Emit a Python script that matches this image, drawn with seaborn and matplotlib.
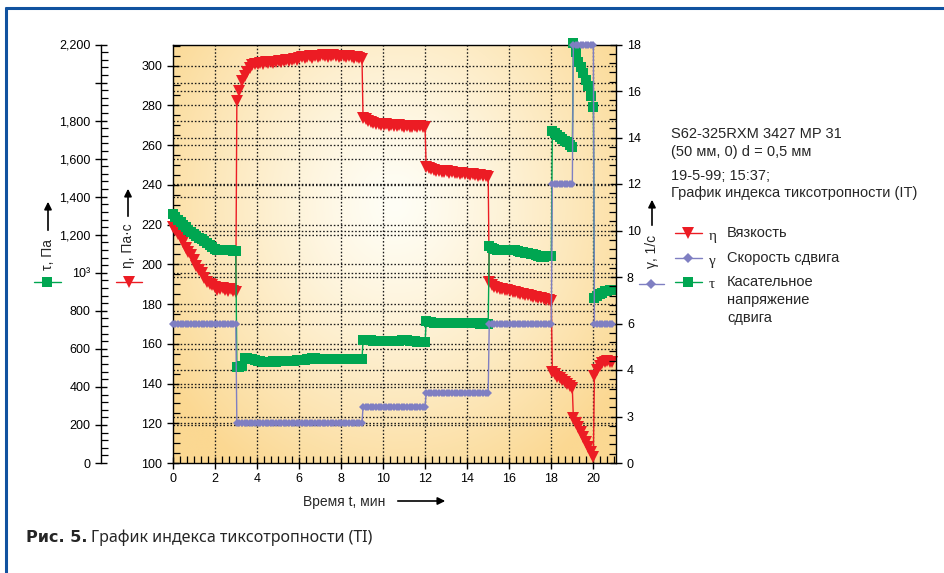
import numpy as np
import pandas as pd
import matplotlib
matplotlib.use("Agg")
import matplotlib.pyplot as plt
import matplotlib.transforms as mtransforms
from matplotlib.lines import Line2D
from matplotlib.ticker import MultipleLocator, FixedLocator, FixedFormatter
import seaborn as sns

# ---------------- data ----------------
segments = [(0.0, 3.0), (3.05, 9.0), (9.05, 12.0), (12.05, 15.0),
            (15.05, 18.0), (18.05, 19.0), (19.05, 20.0), (20.05, 20.9)]

eta_segments = [
    [219, 217.5, 215, 213, 211, 208, 206, 204.5, 202, 199, 197, 195.5, 193, 191,
     190, 189.5, 188.5, 187, 187.5, 188, 187, 186.5, 187.5, 186.5, 186],
    [282, 287, 292, 295, 297, 299, 300.5, 301, 301, 301.5, 301, 302, 301.5, 302,
     301.5, 302, 302.5, 302, 302.5, 303, 302.5, 303, 303.5, 303, 304, 304.5, 304,
     304.5, 305, 304, 305, 304.5, 305, 305.5, 305, 304.5, 305, 305.5, 305, 304.5,
     305, 305, 304.5, 305, 304.5, 304, 304.5, 304, 303.5],
    [273.5, 273, 272, 271.5, 271, 270.5, 270.5, 270, 270, 270.5, 269.5, 270, 269.5,
     269.5, 270, 269.5, 269, 269.5, 269, 269, 269.5, 269, 269.5, 269, 269],
    [249, 248.5, 248, 247.5, 247, 247, 246.5, 246.5, 247, 246, 246.5, 246, 246,
     245.5, 246, 245.5, 245.5, 245, 245.5, 245, 244.5, 245, 244.5, 244.5, 244],
    [191, 189.5, 188.5, 188, 187.5, 187.5, 187, 187, 186.5, 186, 186, 185.5, 185,
     185, 184.5, 184.5, 184, 183.5, 183.5, 183, 183, 182.5, 182, 182, 181.5],
    [146, 145, 143.5, 143, 142, 141, 140, 139, 137.5],
    [122.5, 120, 118, 115.5, 113, 110.5, 108, 105.5, 103],
    [144, 147, 149, 150.5, 151, 151.5, 151, 151],
]

tau_segments = [
    [1310, 1295, 1280, 1265, 1250, 1238, 1225, 1215, 1205, 1195, 1185, 1175, 1165,
     1155, 1145, 1135, 1125, 1122, 1120, 1118, 1118, 1121, 1120, 1115, 1112],
    [505, 507, 510, 550, 552, 548, 545, 540, 536, 535, 533, 533, 532, 533, 534, 533,
     534, 535, 535, 536, 537, 536, 538, 539, 540, 542, 544, 546, 548, 552, 550, 548,
     548, 547, 546, 547, 546, 546, 547, 546, 545, 546, 547, 546, 545, 546, 545, 546,
     546],
    [648, 647, 645, 644, 643, 642, 641, 640, 640, 641, 640, 642, 641, 640, 643, 645,
     647, 646, 643, 641, 640, 638, 637, 636, 635],
    [744, 742, 740, 738, 737, 736, 736, 735, 735, 736, 735, 736, 735, 734, 735, 736,
     737, 735, 734, 735, 734, 733, 734, 733, 733],
    [1142, 1132, 1125, 1122, 1120, 1119, 1118, 1120, 1122, 1120, 1118, 1114, 1110,
     1107, 1105, 1102, 1100, 1097, 1093, 1088, 1084, 1083, 1086, 1088, 1090],
    [1745, 1735, 1722, 1712, 1703, 1695, 1685, 1672, 1660],
    [2210, 2160, 2110, 2080, 2050, 2015, 1980, 1930, 1870],
    [865, 878, 888, 896, 902, 905, 908, 910],
]

gamma_segments = [
    [6, 6, 6, 6, 6, 6, 6, 6, 6, 6, 6, 6, 6, 6, 6, 6, 6, 6, 6, 6, 6, 6, 6, 6, 6],
    [2.6, 2.6, 2.6, 2.6, 2.6, 2.6, 2.6, 2.6, 2.6, 2.6, 2.6, 2.6, 2.6, 2.6, 2.6,
     2.6, 2.6, 2.6, 2.6, 2.6, 2.6, 2.6, 2.6, 2.6, 2.6, 2.6, 2.6, 2.6, 2.6, 2.6,
     2.6, 2.6, 2.6, 2.6, 2.6, 2.6, 2.6, 2.6, 2.6, 2.6, 2.6, 2.6, 2.6, 2.6, 2.6,
     2.6, 2.6, 2.6, 2.6],
    [3.2, 3.2, 3.2, 3.2, 3.2, 3.2, 3.2, 3.2, 3.2, 3.2, 3.2, 3.2, 3.2, 3.2, 3.2,
     3.2, 3.2, 3.2, 3.2, 3.2, 3.2, 3.2, 3.2, 3.2, 3.2],
    [3.5, 3.5, 3.5, 3.5, 3.5, 3.5, 3.5, 3.5, 3.5, 3.5, 3.5, 3.5, 3.5, 3.5, 3.5,
     3.5, 3.5, 3.5, 3.5, 3.5, 3.5, 3.5, 3.5, 3.5, 3.5],
    [6, 6, 6, 6, 6, 6, 6, 6, 6, 6, 6, 6, 6, 6, 6, 6, 6, 6, 6, 6, 6, 6, 6, 6, 6],
    [12, 12, 12, 12, 12, 12, 12, 12, 12],
    [18, 18, 18, 18, 18, 18, 18, 18, 18],
    [6, 6, 6, 6, 6, 6, 6, 6],
]

x_ticks = [0, 2, 4, 6, 8, 10, 12, 14, 16, 18, 20]
eta_ticks = [100, 120, 140, 160, 180, 200, 220, 240, 260, 280, 300]
tau_ticks = [0, 200, 400, 600, 800, 1000, 1200, 1400, 1600, 1800, 2000, 2200]
tau_labels = ['0', '200', '400', '600', '800', '10³', '1,200', '1,400',
              '1,600', '1,800', '', '2,200']
gamma_ticks = [0, 3, 4, 6, 8, 10, 12, 14, 16, 18]
gamma_labels = ['0', '3', '4', '6', '8', '10', '12', '14', '16', '18']

info_lines = ["S62-325RXM 3427 MP 31", "(50 мм, 0) d = 0,5 мм",
              "19-5-99; 15:37;", "График индекса тиксотропности (IT)"]
legend_names = ["Вязкость", "Скорость сдвига", "Касательное\nнапряжение\nсдвига"]
legend_greek = ["η", "γ", "τ"]


def series_frame(segs, name):
    rows = []
    for (a, b), vals in zip(segments, segs):
        ts = np.linspace(a, b, len(vals))
        rows.append(pd.DataFrame({"t": ts, name: vals}))
    return pd.concat(rows, ignore_index=True)


df_eta = series_frame(eta_segments, "eta")
df_tau = series_frame(tau_segments, "tau")
df_gam = series_frame(gamma_segments, "gamma")

# ---------------- style ----------------
sns.set_style("ticks")
plt.rcParams['font.family'] = ['Liberation Sans', 'DejaVu Sans']
plt.rcParams.update({
    'xtick.minor.visible': True, 'ytick.minor.visible': True,
    'xtick.minor.size': 5, 'ytick.minor.size': 5,
    'xtick.minor.width': 0.9, 'ytick.minor.width': 0.9,
    'xtick.major.size': 9, 'ytick.major.size': 9,
    'xtick.major.width': 1, 'ytick.major.width': 1,
    'xtick.color': 'black', 'ytick.color': 'black',
})
RED = '#EC1C24'
GREEN = '#00A651'
PURPLE = '#7F7FC2'

W, H = 945, 573
fig = plt.figure(figsize=(W / 100, H / 100), dpi=100)
fig.patch.set_facecolor('white')

L, R, T, B = 172.7, 616.5, 44.5, 463.0
ax = fig.add_axes([L / W, 1 - B / H, (R - L) / W, (B - T) / H])
ax_t = ax.twinx()
ax_g = ax.twinx()

# gradient background
gy, gx = np.mgrid[0:1:240j, 0:1:360j]
r = np.sqrt(((gx - 0.50) / 0.62) ** 2 + ((gy - 0.62) / 0.75) ** 2)
f = np.clip(r / 1.0, 0, 1) ** 1.25
c_in = np.array([255, 254, 246]) / 255
c_out = np.array([251, 216, 146]) / 255
img = c_in[None, None, :] * (1 - f[..., None]) + c_out[None, None, :] * f[..., None]
ax.imshow(img, origin='lower', extent=(0, 1, 0, 1), transform=ax.transAxes,
          aspect='auto', zorder=-10, interpolation='bilinear')

# ---------------- data lines ----------------
common = dict(linewidth=1.0, markeredgewidth=0, errorbar=None, legend=False)
sns.lineplot(data=df_eta, x="t", y="eta", ax=ax, color=RED, marker='v',
             markersize=8, zorder=3, **common)
sns.lineplot(data=df_tau, x="t", y="tau", ax=ax_t, color=GREEN, marker='s',
             markersize=6.5, zorder=3, **common)


def g_fwd(v):
    v = np.asarray(v, float)
    return np.where(v < 3, v * 2 / 3, np.where(v < 4, 2 + (v - 3) * 2, v))


def g_inv(u):
    u = np.asarray(u, float)
    return np.where(u < 2, u * 1.5, np.where(u < 4, 3 + (u - 2) / 2, u))


ax_g.set_yscale('function', functions=(g_fwd, g_inv))
sns.lineplot(data=df_gam, x="t", y="gamma", ax=ax_g, color=PURPLE, marker='D',
             markersize=4.5, zorder=3, **common)
for a_ in (ax, ax_t, ax_g):
    for ln in a_.get_lines():
        ln.set_clip_on(False)

# ---------------- limits & ticks ----------------
ax.set_xlim(0, 21.1)
ax.set_ylim(100, 310.6)
ax_t.set_ylim(0, 2200)
ax_g.set_ylim(0, 18)

ax.xaxis.set_major_locator(FixedLocator(x_ticks))
ax.xaxis.set_minor_locator(MultipleLocator(1 / 3))
ax.yaxis.set_major_locator(FixedLocator(eta_ticks))
ax.yaxis.set_minor_locator(MultipleLocator(5))
ax_t.yaxis.set_major_locator(FixedLocator(tau_ticks))
ax_t.yaxis.set_major_formatter(FixedFormatter(tau_labels))
ax_t.yaxis.set_minor_locator(MultipleLocator(40))
ax_g.yaxis.set_major_locator(FixedLocator(gamma_ticks))
ax_g.yaxis.set_major_formatter(FixedFormatter(gamma_labels))
ax_g.yaxis.set_minor_locator(FixedLocator(list(g_inv(np.arange(0, 18.01, 0.4)))))

# tau axis on far left
ax_t.yaxis.set_ticks_position('left')
ax_t.yaxis.set_label_position('left')
ax_t.spines['left'].set_position(('axes', (101 - L) / (R - L)))
ax_t.spines['left'].set_visible(True)
for s in ('right', 'top', 'bottom'):
    ax_t.spines[s].set_visible(False)

# gamma axis on right
ax_g.yaxis.set_ticks_position('right')
for s in ('left', 'top', 'bottom'):
    ax_g.spines[s].set_visible(False)

ax.spines['right'].set_visible(False)
for s in ('left', 'bottom', 'top'):
    ax.spines[s].set_visible(True)

for a_ in (ax, ax_t, ax_g):
    a_.set_xlabel('')
    a_.set_ylabel('')
    for s in a_.spines.values():
        s.set_linewidth(1)
        s.set_color('black')
    a_.tick_params(which='major', direction='inout', length=9, width=1,
                   labelsize=9, pad=3, color='black', labelcolor='black')
    a_.tick_params(which='minor', direction='in', length=5, width=0.9, color='black')

ax.tick_params(axis='y', which='both', left=True, right=False, labelleft=True,
               labelright=False)
ax.tick_params(axis='x', which='both', top=False, bottom=True, labelbottom=True)
ax_t.tick_params(axis='y', which='both', left=True, right=False, labelleft=True,
                 labelright=False)
ax_t.tick_params(axis='x', which='both', bottom=False, labelbottom=False)
ax_g.tick_params(axis='y', which='both', left=False, right=True, labelleft=False,
                 labelright=True)
ax_g.tick_params(axis='x', which='both', bottom=False, labelbottom=False)

# ---------------- grid (drawn under all data) ----------------
gkw = dict(color='#1a1a1a', linewidth=0.95, linestyle=(0, (1.2, 1.5)), zorder=0.5)
for xv in x_ticks[1:]:
    ax.axvline(xv, **gkw)
for yv in eta_ticks[1:]:
    ax.axhline(yv, **gkw)
tr_t = mtransforms.blended_transform_factory(ax.transAxes, ax_t.transData)
for yv in tau_ticks[1:-1]:
    ax.plot([0, 1], [yv, yv], transform=tr_t, **gkw)
tr_g = mtransforms.blended_transform_factory(ax.transAxes, ax_g.transData)
for yv in gamma_ticks[1:-1]:
    ax.plot([0, 1], [yv, yv], transform=tr_g, **gkw)
ax.set_xlim(0, 21.1)
ax.set_ylim(100, 310.6)


# ---------------- annotation helpers (figure pixel coords, y from top) ----------------
def fx(x):
    return x / W


def fy(y):
    return 1 - y / H


def arrow_up(x, y0, y1):
    fig.add_artist(matplotlib.patches.FancyArrowPatch(
        (fx(x), fy(y0)), (fx(x), fy(y1)), transform=fig.transFigure,
        arrowstyle='-|>', mutation_scale=11, color='black', lw=1.2))


def marker_key(x0, x1, y, color, marker, ms):
    fig.add_artist(Line2D([fx(x0), fx(x1)], [fy(y), fy(y)], transform=fig.transFigure,
                          color=color, lw=1.0, marker=None))
    fig.add_artist(Line2D([fx((x0 + x1) / 2)], [fy(y)], transform=fig.transFigure,
                          color=color, marker=marker, markersize=ms, markeredgewidth=0,
                          linestyle='none'))


# axis titles
fig.text(fx(48), fy(254), "τ, Па", rotation=90, ha='center', va='center', fontsize=10)
arrow_up(48, 233, 199)
marker_key(34, 61, 282, GREEN, 's', 7)

fig.text(fx(128), fy(246), "η, Па·с", rotation=90, ha='center', va='center', fontsize=10)
arrow_up(128, 219, 186)
marker_key(116, 142, 282, RED, 'v', 8)

fig.text(fx(652), fy(251), "γ, 1/с", rotation=90, ha='center', va='center', fontsize=10)
arrow_up(652, 228, 197)
marker_key(639, 664, 284, PURPLE, 'D', 5)

# x label
fig.text(fx(303), fy(502), "Время t, мин", ha='left', va='center', fontsize=10)
fig.add_artist(matplotlib.patches.FancyArrowPatch(
    (fx(395), fy(501)), (fx(448), fy(501)), transform=fig.transFigure,
    arrowstyle='-|>', mutation_scale=11, color='black', lw=1.2))

# info text
info_y = [134, 152, 176, 193]
for txt, yy in zip(info_lines, info_y):
    fig.text(fx(671), fy(yy), txt, ha='left', va='center', fontsize=10.5)

# legend
leg_y = [233, 258, 282]
leg_style = [(RED, 'v', 8), (PURPLE, 'D', 5), (GREEN, 's', 7)]
for (col, mk, ms), yy, g, name in zip(leg_style, leg_y, legend_greek, legend_names):
    marker_key(675, 702, yy, col, mk, ms)
    fig.text(fx(709), fy(yy + 3), g, ha='left', va='center', fontsize=11,
             family=['Liberation Serif', 'DejaVu Serif'])
    fig.text(fx(727), fy(yy - 7), name, ha='left', va='top', fontsize=10.5,
             linespacing=1.38)

# blue frame
fig.add_artist(Line2D([fx(5), 1], [fy(8.2), fy(8.2)], transform=fig.transFigure,
                      color='#11529F', lw=2.2, solid_capstyle='butt'))
fig.add_artist(Line2D([fx(6.5), fx(6.5)], [0, fy(7)], transform=fig.transFigure,
                      color='#11529F', lw=2.2, solid_capstyle='butt'))

# caption
fig.canvas.draw()
renderer = fig.canvas.get_renderer()
cap1 = fig.text(fx(26), fy(538), "Рис. 5.", ha='left', va='center', fontsize=11.5,
                fontweight='bold', family=['DejaVu Sans'])
bb = cap1.get_window_extent(renderer)
fig.text((bb.x1 + 4) / W, fy(538), "График индекса тиксотропности (TI)", ha='left',
         va='center', fontsize=11.5, family=['Noto Sans', 'DejaVu Sans'])

fig.savefig("out.png", dpi=100, facecolor='white')
